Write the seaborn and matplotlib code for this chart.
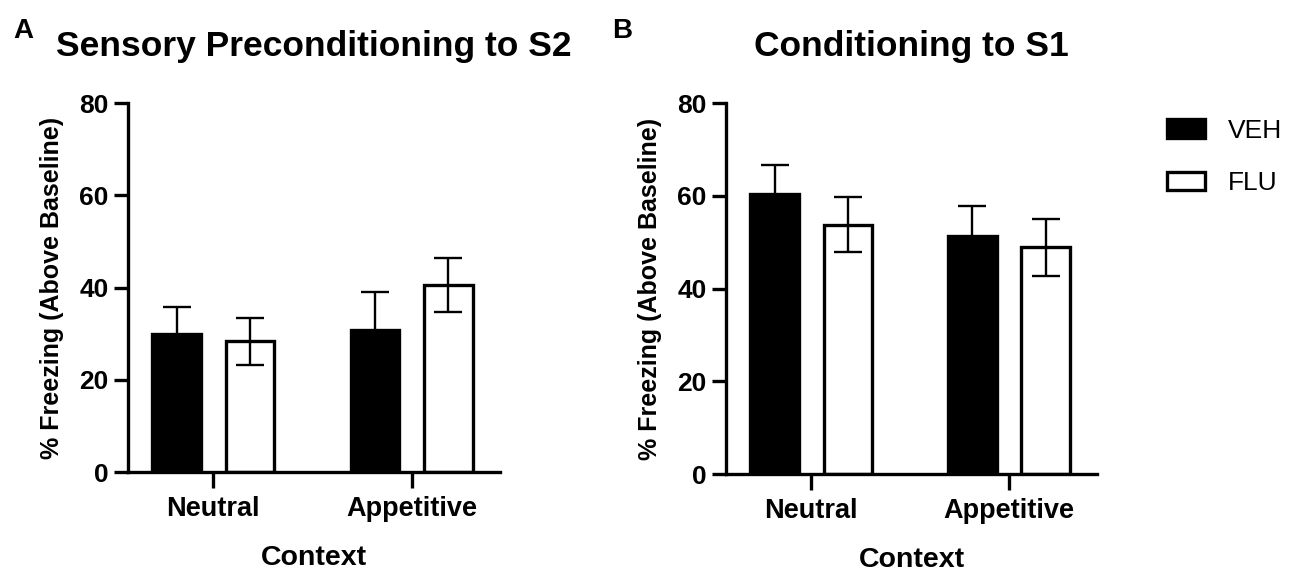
import numpy as np
import pandas as pd
import seaborn as sns
import matplotlib.pyplot as plt
from matplotlib.patches import Patch

# values (mean, SEM)
contexts = ['Neutral', 'Appetitive']
groups = ['VEH', 'FLU']

s2_veh_mean = [30.0, 30.8]
s2_veh_sem = [5.8, 8.2]
s2_flu_mean = [28.4, 40.6]
s2_flu_sem = [5.1, 5.8]

s1_veh_mean = [60.4, 51.3]
s1_veh_sem = [6.2, 6.4]
s1_flu_mean = [53.8, 48.9]
s1_flu_sem = [5.9, 6.1]

titles = ['Sensory Preconditioning to S2', 'Conditioning to S1']
panel_letters = ['A', 'B']

sns.set_style('ticks')
plt.rcParams['font.family'] = ['Liberation Sans', 'DejaVu Sans']
plt.rcParams['font.weight'] = 'bold'
plt.rcParams['axes.labelweight'] = 'bold'
plt.rcParams['axes.titleweight'] = 'bold'
for key in ['text.color', 'axes.labelcolor', 'xtick.color', 'ytick.color', 'axes.edgecolor']:
    plt.rcParams[key] = 'black'


def make_df(veh_mean, veh_sem, flu_mean, flu_sem):
    rows = []
    for i, c in enumerate(contexts):
        rows.append({'Context': c, 'group': 'VEH', 'mean': veh_mean[i], 'sem': veh_sem[i]})
        rows.append({'Context': c, 'group': 'FLU', 'mean': flu_mean[i], 'sem': flu_sem[i]})
    return pd.DataFrame(rows)


dfs = [make_df(s2_veh_mean, s2_veh_sem, s2_flu_mean, s2_flu_sem),
       make_df(s1_veh_mean, s1_veh_sem, s1_flu_mean, s1_flu_sem)]

fig = plt.figure(figsize=(13, 5.81), dpi=100)
ax_pos = [[0.0985, 0.1876, 0.286, 0.635],
          [0.5585, 0.184, 0.2854, 0.6386]]
palette = {'VEH': 'black', 'FLU': 'white'}
lw = 2.4

for k in range(2):
    ax = fig.add_axes(ax_pos[k])
    df = dfs[k]
    sns.barplot(data=df, x='Context', y='mean', hue='group', order=contexts,
                hue_order=groups, palette=palette, edgecolor='black',
                linewidth=lw, width=0.74, gap=0.338, errorbar=None,
                legend=False, ax=ax, zorder=2)
    # error bars (SEM) at bar centres
    for p in ax.patches:
        h = p.get_height()
        row = df.iloc[(df['mean'] - h).abs().argmin()]
        xc = p.get_x() + p.get_width() / 2
        ax.errorbar(xc, h, yerr=row['sem'], color='black', elinewidth=1.7,
                    capsize=10, capthick=1.7, zorder=3)
    ax.set_ylim(0, 80)
    ax.set_xlim(-0.43, 1.445)
    ax.set_yticks([0, 20, 40, 60, 80])
    sns.despine(ax=ax)
    for s in ['left', 'bottom']:
        ax.spines[s].set_linewidth(lw)
    ax.tick_params(axis='y', length=10, width=lw, labelsize=19, pad=4)
    ax.tick_params(axis='x', length=11.5, width=lw, labelsize=19.5, pad=6)
    ax.set_ylabel('% Freezing (Above Baseline)', fontsize=18, labelpad=11)
    ax.set_xlabel('Context', fontsize=20.5, labelpad=16)
    ax.set_title(titles[k], fontsize=25.5, pad=34)
    fig.text(ax_pos[k][0] - 0.088, 0.935, panel_letters[k], fontsize=20,
             fontweight='bold', ha='left', va='baseline')

handles = [Patch(facecolor='black', edgecolor='black', linewidth=lw),
           Patch(facecolor='white', edgecolor='black', linewidth=lw)]
fig.legend(handles, groups, loc='upper left', bbox_to_anchor=(0.8977, 0.796),
           frameon=False, prop={'weight': 'normal', 'size': 19},
           handlelength=1.45, handleheight=0.7, handletextpad=0.85,
           labelspacing=1.08, borderpad=0, borderaxespad=0)

fig.savefig('out.png', dpi=100)
